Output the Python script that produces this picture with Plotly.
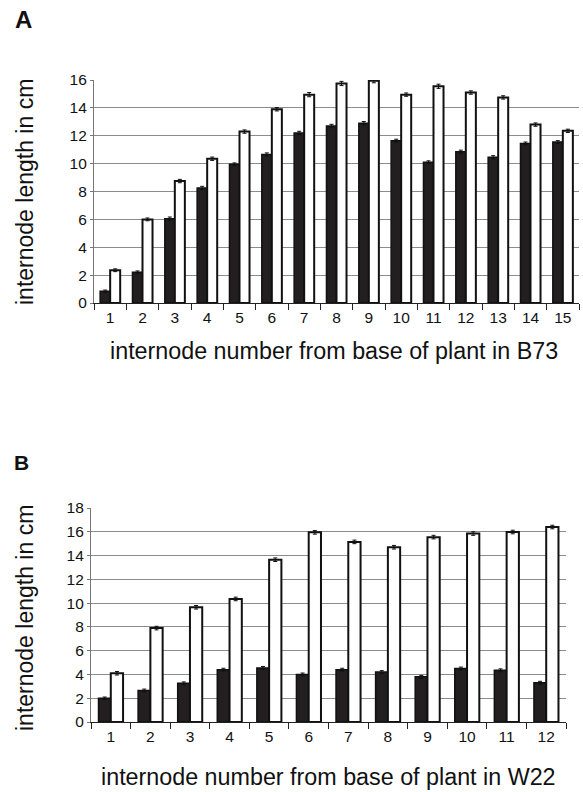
import plotly.graph_objects as go

# ---------------- data ----------------
cats_a = [str(i) for i in range(1, 16)]
black_a = [0.85, 2.2, 6.05, 8.25, 9.95, 10.65, 12.2, 12.7, 12.9, 11.65, 10.1, 10.85, 10.45, 11.45, 11.55]
white_a = [2.35, 6.0, 8.75, 10.35, 12.3, 13.9, 14.95, 15.75, 15.95, 14.95, 15.55, 15.1, 14.75, 12.8, 12.35]
err_black_a = [0.08, 0.1, 0.12, 0.12, 0.1, 0.12, 0.12, 0.12, 0.12, 0.1, 0.1, 0.12, 0.12, 0.1, 0.1]
err_white_a = [0.1, 0.1, 0.12, 0.12, 0.12, 0.12, 0.15, 0.15, 0.15, 0.12, 0.15, 0.12, 0.12, 0.12, 0.12]

cats_b = [str(i) for i in range(1, 13)]
black_b = [2.0, 2.65, 3.25, 4.4, 4.55, 4.0, 4.4, 4.2, 3.8, 4.5, 4.35, 3.3]
white_b = [4.1, 7.9, 9.65, 10.35, 13.65, 15.95, 15.15, 14.7, 15.55, 15.85, 15.98, 16.4]
err_black_b = [0.1, 0.12, 0.12, 0.12, 0.12, 0.12, 0.12, 0.12, 0.12, 0.12, 0.12, 0.12]
err_white_b = [0.15, 0.15, 0.15, 0.15, 0.15, 0.15, 0.15, 0.15, 0.15, 0.15, 0.15, 0.15]

title_x_a = "internode number from base of plant in B73"
title_x_b = "internode number from base of plant in W22"
title_y = "internode length in cm"

FONT = "Liberation Sans, Arial, sans-serif"
W, H = 583, 792

fig = go.Figure()

def add_pair(cats, blk, wht, eb, ew, xa, ya):
    fig.add_trace(go.Bar(
        x=cats, y=blk, xaxis=xa, yaxis=ya,
        marker=dict(color="#231f20", line=dict(color="#111", width=1.5)),
        error_y=dict(type="data", array=eb, visible=True, color="#111", thickness=1, width=2),
        showlegend=False))
    fig.add_trace(go.Bar(
        x=cats, y=wht, xaxis=xa, yaxis=ya,
        marker=dict(color="white", line=dict(color="#111", width=2)),
        error_y=dict(type="data", array=ew, visible=True, color="#111", thickness=1, width=2),
        showlegend=False))

add_pair(cats_a, black_a, white_a, err_black_a, err_white_a, "x", "y")
add_pair(cats_b, black_b, white_b, err_black_b, err_white_b, "x2", "y2")

def py(px):
    return 1 - px / H

def pxx(px):
    return px / W

xcommon = dict(type="category", showline=True, linecolor="#222", linewidth=1.2,
               ticks="outside", tickson="boundaries", ticklen=6, tickcolor="#222",
               showgrid=False, tickfont=dict(family=FONT, size=15.5, color="#111"),
               zeroline=False, automargin=False)
ycommon = dict(showline=True, linecolor="#777", linewidth=1.2, ticks="outside",
               ticklen=3, tickcolor="#777", showgrid=True, gridcolor="#8c8c8c",
               gridwidth=1.2, dtick=2, zeroline=False, automargin=False,
               tickfont=dict(family=FONT, size=15.5, color="#111"))

fig.update_layout(
    width=W, height=H,
    margin=dict(l=0, r=0, t=0, b=0, autoexpand=False),
    paper_bgcolor="white", plot_bgcolor="white",
    barmode="group", bargap=0.38, bargroupgap=0,
    xaxis=dict(domain=[pxx(94), pxx(579)], anchor="y", **xcommon),
    yaxis=dict(domain=[py(303), py(80)], anchor="x", range=[0, 16], **ycommon),
    xaxis2=dict(domain=[pxx(91), pxx(566)], anchor="y2", **xcommon),
    yaxis2=dict(domain=[py(722), py(508)], anchor="x2", range=[0, 18], **ycommon),
    font=dict(family=FONT, color="#111"),
)

ann = [
    dict(text="<b>A</b>", x=pxx(13), y=py(19), xanchor="left", yanchor="middle", font=dict(size=24)),
    dict(text="<b>B</b>", x=pxx(12), y=py(462), xanchor="left", yanchor="middle", font=dict(size=21)),
    dict(text=title_x_a, x=pxx(334), y=py(351), xanchor="center", yanchor="middle", font=dict(size=23.3)),
    dict(text=title_x_b, x=pxx(328), y=py(777), xanchor="center", yanchor="middle", font=dict(size=23.3)),
    dict(text=title_y, x=pxx(25), y=py(192), textangle=-90, xanchor="center", yanchor="middle", font=dict(size=23)),
    dict(text=title_y, x=pxx(25), y=py(618), textangle=-90, xanchor="center", yanchor="middle", font=dict(size=23)),
]
for a in ann:
    a.update(xref="paper", yref="paper", showarrow=False)
    a["font"] = dict(family=FONT, color="#111", **a["font"])
fig.update_layout(annotations=ann)

# remove the browser's default 8px body margin so the figure fills the window
fig.write_html("out.html", config={"displayModeBar": False},
               post_script="document.body.style.margin='0';")
